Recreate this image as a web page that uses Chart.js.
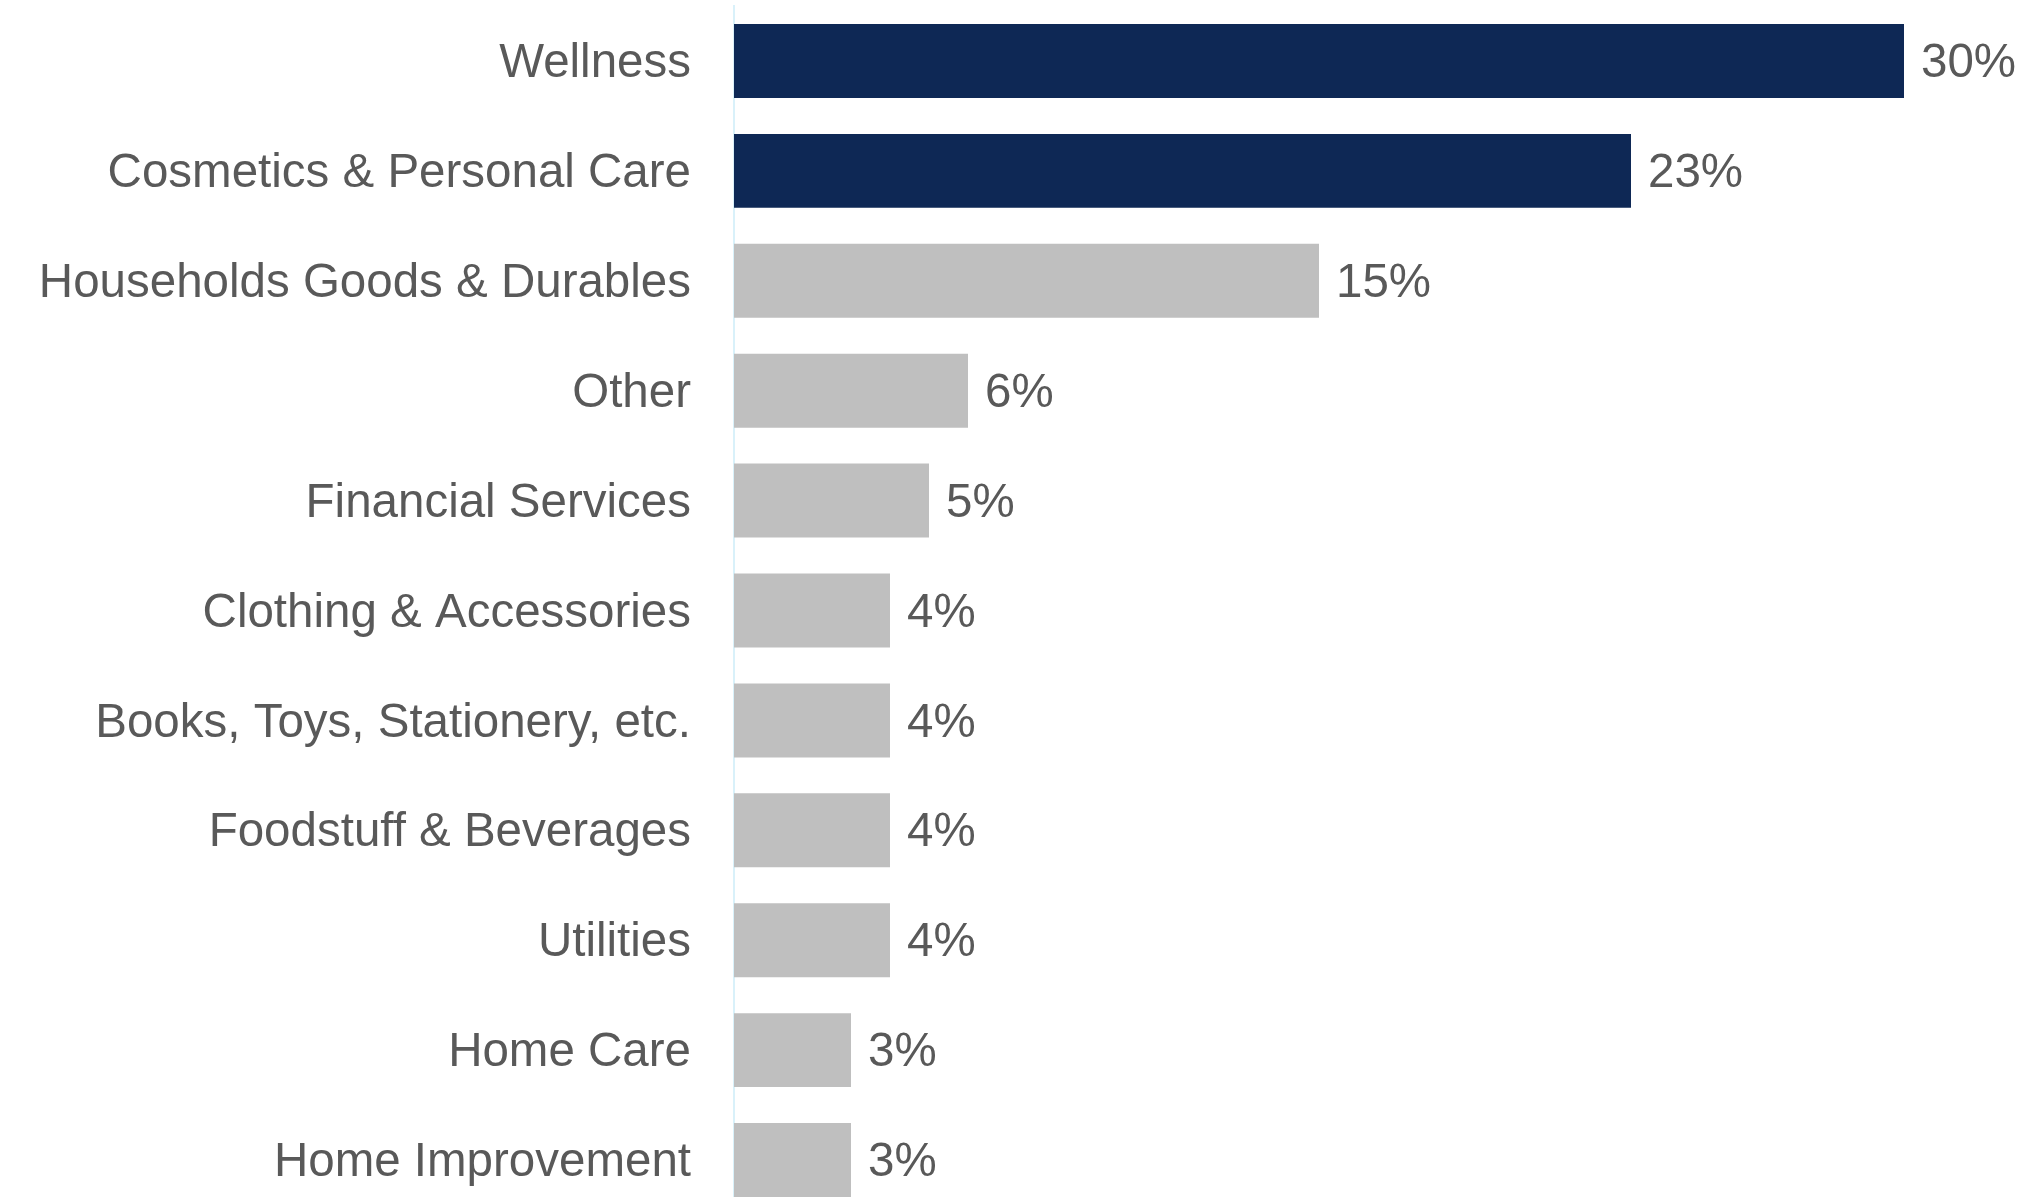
<!DOCTYPE html>
<html>
<head>
<meta charset="utf-8">
<script src="https://cdn.jsdelivr.net/npm/chart.js@4.4.1/dist/chart.umd.min.js"></script>
<style>
  html, body { margin: 0; padding: 0; background: #fff; overflow: hidden; }
  #wrap { width: 2024px; height: 1221px; }
</style>
</head>
<body>
<div id="wrap"><canvas id="myChart" width="2024" height="1221"></canvas></div>
<script>
  // Categorías y porcentajes
  const categories = [
    'Wellness',
    'Cosmetics & Personal Care',
    'Households Goods & Durables',
    'Other',
    'Financial Services',
    'Clothing & Accessories',
    'Books, Toys, Stationery, etc.',
    'Foodstuff & Beverages',
    'Utilities',
    'Home Care',
    'Home Improvement',
  ];
  const shares = [30, 23, 15, 6, 5, 4, 4, 4, 4, 3, 3];
  const highlighted = [true, true, false, false, false, false, false, false, false, false, false];

  const NAVY = '#0e2855';
  const GREY = '#bfbfbf';
  const TEXT = '#595959';
  const FONT = "'Liberation Sans', Arial, sans-serif";

  // Etiqueta de porcentaje al final de cada barra
  const valueLabels = {
    id: 'valueLabels',
    afterDatasetsDraw(chart) {
      const ctx = chart.ctx;
      const meta = chart.getDatasetMeta(0);
      ctx.save();
      ctx.font = '47.5px ' + FONT;
      ctx.fillStyle = TEXT;
      ctx.textAlign = 'left';
      ctx.textBaseline = 'middle';
      meta.data.forEach((bar, i) => {
        ctx.fillText(shares[i] + '%', bar.x + 17, bar.y + 3);
      });
      ctx.restore();
    },
  };

  const ctx = document.getElementById('myChart').getContext('2d');
  new Chart(ctx, {
    type: 'bar',
    data: {
      labels: categories,
      datasets: [
        {
          data: shares,
          backgroundColor: highlighted.map((h) => (h ? NAVY : GREY)),
          borderWidth: 0,
          barPercentage: 0.673,
          categoryPercentage: 1,
        },
      ],
    },
    options: {
      indexAxis: 'y',
      responsive: false,
      animation: false,
      layout: { padding: { top: 6, bottom: 6, right: 120, left: 0 } },
      plugins: {
        legend: { display: false },
        tooltip: { enabled: false },
      },
      scales: {
        x: {
          display: false,
          min: 0,
          max: 30,
        },
        y: {
          afterFit(scale) {
            // ancho fijo del eje y sin margen extra arriba/abajo
            scale.width = 734;
            scale.paddingTop = 0;
            scale.paddingBottom = 0;
          },
          grid: { display: true, drawTicks: false, color: 'rgba(0,0,0,0)' },
          border: { display: true, color: '#d9f1fa', width: 2 },
          ticks: {
            padding: 43,
            labelOffset: 3,
            color: TEXT,
            font: { family: FONT, size: 47.5 },
          },
        },
      },
    },
    plugins: [valueLabels],
  });
</script>
</body>
</html>
